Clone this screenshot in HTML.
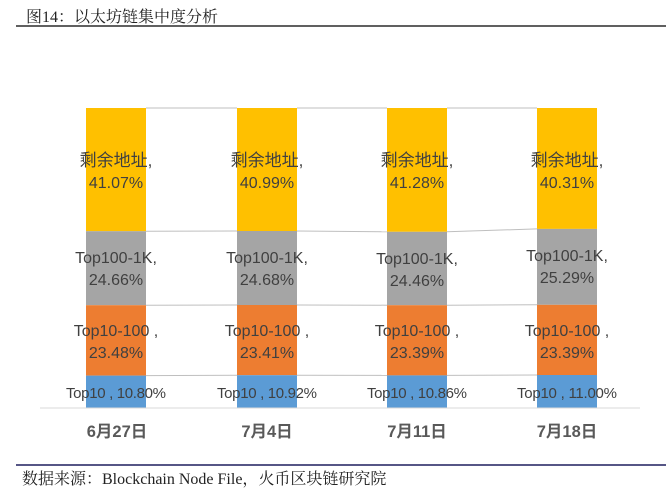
<!DOCTYPE html>
<html><head><meta charset="utf-8"><style>
body{margin:0;background:#fff;}
svg{display:block;}
</style></head><body>
<svg width="666" height="491" xmlns="http://www.w3.org/2000/svg">
<text x="26" y="22" font-family="Liberation Serif,'Noto Serif CJK SC',serif" font-size="16" fill="#222">图14：以太坊链集中度分析</text>
<line x1="16" y1="26" x2="666" y2="26" stroke="#000" stroke-width="1.2"/>
<g stroke="#bfbfbf" stroke-width="1">
<line x1="146" y1="108" x2="237" y2="108"/><line x1="297" y1="108" x2="387" y2="108"/><line x1="447" y1="108" x2="537" y2="108"/>
<line x1="146" y1="231.2" x2="237" y2="231"/><line x1="297" y1="231" x2="387" y2="231.8"/><line x1="447" y1="231.8" x2="537" y2="228.9"/>
<line x1="146" y1="305.2" x2="237" y2="305"/><line x1="297" y1="305" x2="387" y2="305.2"/><line x1="447" y1="305.2" x2="537" y2="304.8"/>
<line x1="146" y1="375.6" x2="237" y2="375.2"/><line x1="297" y1="375.2" x2="387" y2="375.4"/><line x1="447" y1="375.4" x2="537" y2="375"/>
</g>
<g>
<rect x="86" y="108" width="60" height="123.2" fill="#FFC000"/><rect x="86" y="231.2" width="60" height="74" fill="#A5A5A5"/><rect x="86" y="305.2" width="60" height="70.4" fill="#ED7D31"/><rect x="86" y="375.6" width="60" height="32.4" fill="#5B9BD5"/>
<rect x="237" y="108" width="60" height="123" fill="#FFC000"/><rect x="237" y="231" width="60" height="74" fill="#A5A5A5"/><rect x="237" y="305" width="60" height="70.2" fill="#ED7D31"/><rect x="237" y="375.2" width="60" height="32.8" fill="#5B9BD5"/>
<rect x="387" y="108" width="60" height="123.8" fill="#FFC000"/><rect x="387" y="231.8" width="60" height="73.4" fill="#A5A5A5"/><rect x="387" y="305.2" width="60" height="70.2" fill="#ED7D31"/><rect x="387" y="375.4" width="60" height="32.6" fill="#5B9BD5"/>
<rect x="537" y="108" width="60" height="120.9" fill="#FFC000"/><rect x="537" y="228.9" width="60" height="75.9" fill="#A5A5A5"/><rect x="537" y="304.8" width="60" height="70.2" fill="#ED7D31"/><rect x="537" y="375" width="60" height="33" fill="#5B9BD5"/>
</g>
<line x1="40" y1="408" x2="640" y2="408" stroke="#d9d9d9" stroke-width="1"/>
<g font-family="Liberation Sans,'Noto Sans CJK SC',sans-serif" font-size="16" fill="#404040" text-anchor="middle">
<text x="116" y="166" font-size="17">剩余地址,</text><text x="116" y="188">41.07%</text>
<text x="267" y="166" font-size="17">剩余地址,</text><text x="267" y="188">40.99%</text>
<text x="417" y="166" font-size="17">剩余地址,</text><text x="417" y="188">41.28%</text>
<text x="567" y="166" font-size="17">剩余地址,</text><text x="567" y="188">40.31%</text>
<text x="116" y="263">Top100-1K,</text><text x="116" y="285">24.66%</text>
<text x="267" y="263">Top100-1K,</text><text x="267" y="285">24.68%</text>
<text x="417" y="264">Top100-1K,</text><text x="417" y="286">24.46%</text>
<text x="567" y="261">Top100-1K,</text><text x="567" y="283">25.29%</text>
<text x="116" y="336">Top10-100 ,</text><text x="116" y="358">23.48%</text>
<text x="267" y="336">Top10-100 ,</text><text x="267" y="358">23.41%</text>
<text x="417" y="336">Top10-100 ,</text><text x="417" y="358">23.39%</text>
<text x="567" y="336">Top10-100 ,</text><text x="567" y="358">23.39%</text>
</g>
<g font-family="Liberation Sans,'Noto Sans CJK SC',sans-serif" font-size="15" fill="#404040" text-anchor="middle" textLength="100">
<text x="116" y="398" textLength="100">Top10 , 10.80%</text>
<text x="267" y="398" textLength="100">Top10 , 10.92%</text>
<text x="417" y="398" textLength="100">Top10 , 10.86%</text>
<text x="567" y="398" textLength="100">Top10 , 11.00%</text>
</g>
<g font-family="Liberation Sans,'Noto Sans CJK SC',sans-serif" font-size="16.5" font-weight="bold" fill="#595959" text-anchor="middle">
<text x="117" y="437">6月27日</text><text x="267" y="437">7月4日</text><text x="417" y="437">7月11日</text><text x="567" y="437">7月18日</text>
</g>
<line x1="16" y1="465" x2="666" y2="465" stroke="#1f1f5f" stroke-width="1.5"/>
<text x="22" y="484" font-family="Liberation Serif,'Noto Serif CJK SC',serif" font-size="16" fill="#222">数据来源：Blockchain Node File，火币区块链研究院</text>
</svg>
</body></html>
